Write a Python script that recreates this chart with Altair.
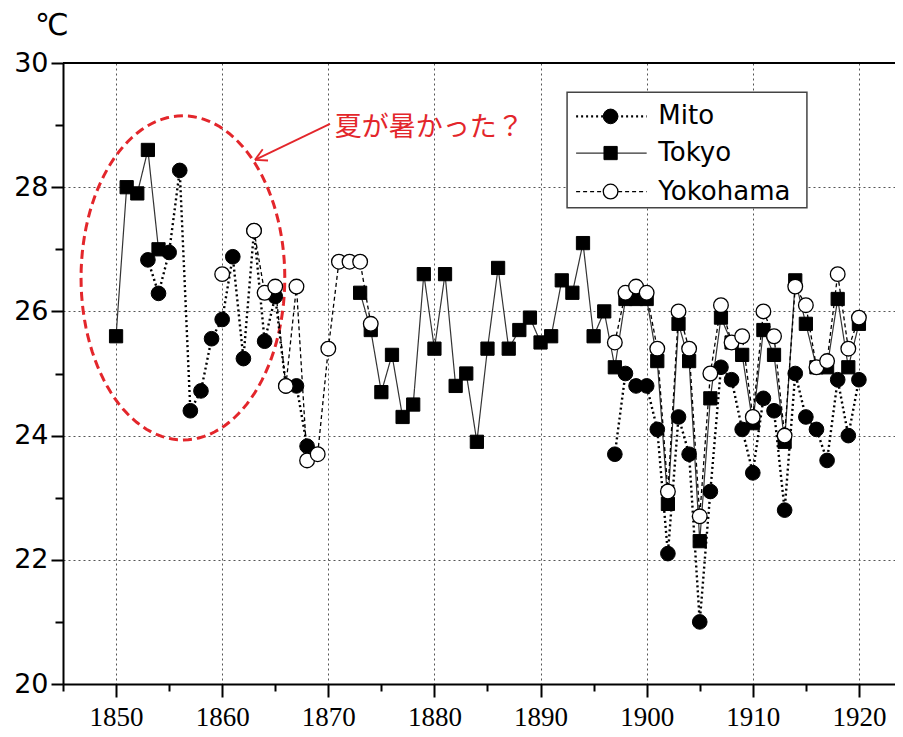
import numpy as np
import pandas as pd
import altair as alt

# ---------------- data ----------------
series_names = ["Mito", "Tokyo", "Yokohama"]

mito_years = list(range(1853, 1869)) + list(range(1897, 1921))
mito_vals = [26.83, 26.29, 26.95, 28.27, 24.40, 24.72, 25.56, 25.87, 26.88, 25.24,
             27.30, 25.52, 26.24, 24.80, 24.80, 23.83,
             23.7, 25.0, 24.8, 24.8, 24.1, 22.1, 24.3, 23.7, 21.0, 23.1,
             25.1, 24.9, 24.1, 23.4, 24.6, 24.4, 22.8, 25.0, 24.3, 24.1,
             23.6, 24.9, 24.0, 24.9]

tokyo_years = list(range(1850, 1855)) + list(range(1873, 1921))
tokyo_vals = [25.6, 28.0, 27.9, 28.6, 27.0,
              26.3, 25.7, 24.7, 25.3, 24.3, 24.5, 26.6, 25.4, 26.6, 24.8,
              25.0, 23.9, 25.4, 26.7, 25.4, 25.7, 25.9, 25.5, 25.6, 26.5,
              26.3, 27.1, 25.6, 26.0, 25.1, 26.2, 26.2, 26.2, 25.2, 22.9,
              25.8, 25.2, 22.3, 24.6, 25.9, 25.5, 25.3, 24.2, 25.7, 25.3,
              23.9, 26.5, 25.8, 25.1, 25.1, 26.2, 25.1, 25.8]

yoko_years = [1860] + list(range(1863, 1875)) + list(range(1897, 1921))
yoko_vals = [26.6,
             27.3, 26.3, 26.4, 24.8, 26.4, 23.6, 23.7, 25.4, 26.8, 26.8, 26.8, 25.8,
             25.5, 26.3, 26.4, 26.3, 25.4, 23.1, 26.0, 25.4, 22.7, 25.0,
             26.1, 25.5, 25.6, 24.3, 26.0, 25.6, 24.0, 26.4, 26.1, 25.1,
             25.2, 26.6, 25.4, 25.9]

x_major = [1850, 1860, 1870, 1880, 1890, 1900, 1910, 1920]
x_minor = [1845, 1855, 1865, 1875, 1885, 1895, 1905, 1915]
y_major = [20, 22, 24, 26, 28, 30]
y_minor = [21, 23, 25, 27, 29]

annotation_text = "夏が暑かった？"
y_unit = "℃"

# ---------------- styles / annotation geometry (data coordinates) ----------------
RED = "#e3262b"
ellipse_center = (1856.3, 26.54)
ellipse_radii = (9.6, 2.61)
arrow_tail = (1870.16, 29.02)
arrow_head = (1863.09, 28.44)
arrow_wings = [(1864.32, 28.43), (1863.82, 28.61)]
text_pos = (1870.6, 28.95)
unit_pos = (1843.95, 30.6)

legend_box = (1892.5, 1915.1, 29.53, 27.67)
legend_rows_y = [29.14, 28.55, 27.93]
legend_line_x = (1893.35, 1900.0)
legend_marker_x = 1896.6
legend_text_x = 1901.1

styles = {
    "Mito": dict(dash=[2, 3], width=2.4, color="black", shape="circle", fill="black", size=215, stroke_w=1),
    "Tokyo": dict(dash=[1, 0], width=1.2, color="#333333", shape="square", fill="black", size=175, stroke_w=1),
    "Yokohama": dict(dash=[4, 3], width=1.3, color="black", shape="circle", fill="white", size=215, stroke_w=1.3),
}

X = alt.Scale(domain=[1845, 1923.4], nice=False, zero=False)
Y = alt.Scale(domain=[20, 30], nice=False, zero=False)


def frame(name, years, vals):
    df = pd.DataFrame({"year": years, "temp": vals})
    df["seg"] = (df["year"].diff() != 1).cumsum()
    df["series"] = name
    return df


frames = {
    "Mito": frame("Mito", mito_years, mito_vals),
    "Tokyo": frame("Tokyo", tokyo_years, tokyo_vals),
    "Yokohama": frame("Yokohama", yoko_years, yoko_vals),
}

# ---------------- axes ----------------
x_axis_major = alt.Axis(values=x_major, format="d", orient="bottom", title="",
                        tickSize=13, tickWidth=2, tickColor="black",
                        domainColor="black", domainWidth=2,
                        labelFont="Liberation Sans Narrow", labelFontSize=27,
                        labelColor="black", labelPadding=7, labelFlush=False,
                        labelOverlap=False,
                        grid=True, gridColor="#555555", gridDash=[2, 3], gridWidth=1)
y_axis_major = alt.Axis(values=y_major, orient="left", title="",
                        tickSize=12, tickWidth=2, tickColor="black",
                        domainColor="black", domainWidth=2,
                        labelFont="DejaVu Sans", labelFontSize=27, labelColor="black",
                        labelPadding=3, labelFlush=False, labelOverlap=False,
                        grid=True, gridColor="#555555", gridDash=[2, 3], gridWidth=1)
x_axis_minor = alt.Axis(values=x_minor, orient="bottom", title="", labels=False,
                        domain=False, grid=False, tickSize=7, tickWidth=2,
                        tickColor="black")
y_axis_minor = alt.Axis(values=y_minor, orient="left", title="", labels=False,
                        domain=False, grid=False, tickSize=8, tickWidth=2,
                        tickColor="black")

layers = []

# axis carriers (invisible)
layers.append(
    alt.Chart(frames["Tokyo"]).mark_point(opacity=0).encode(
        x=alt.X("year:Q", scale=X, axis=x_axis_major),
        y=alt.Y("temp:Q", scale=Y, axis=y_axis_major),
    )
)
layers.append(
    alt.Chart(frames["Tokyo"]).mark_point(opacity=0).encode(
        x=alt.X("year:Q", scale=X, axis=x_axis_minor),
        y=alt.Y("temp:Q", scale=Y, axis=y_axis_minor),
    )
)


def xe(field="year:Q"):
    return alt.X(field, scale=X, axis=None)


def ye(field="temp:Q"):
    return alt.Y(field, scale=Y, axis=None)


# ellipse annotation
t = np.linspace(0, 2 * np.pi, 121)
ell = pd.DataFrame({
    "i": np.arange(len(t)),
    "year": ellipse_center[0] + ellipse_radii[0] * np.cos(t),
    "temp": ellipse_center[1] + ellipse_radii[1] * np.sin(t),
})
layers.append(
    alt.Chart(ell).mark_line(color=RED, strokeDash=[9, 5], strokeWidth=3).encode(
        x=xe(), y=ye(), order="i:Q"
    )
)

# series lines and points
for name in series_names:
    st = styles[name]
    df = frames[name]
    layers.append(
        alt.Chart(df).mark_line(color=st["color"], strokeWidth=st["width"],
                                strokeDash=st["dash"]).encode(
            x=xe(), y=ye(), detail="seg:N", order="year:Q"
        )
    )
for name in series_names:
    st = styles[name]
    df = frames[name]
    layers.append(
        alt.Chart(df).mark_point(shape=st["shape"], filled=True, fill=st["fill"],
                                 stroke="black", strokeWidth=st["stroke_w"],
                                 size=st["size"], opacity=1).encode(
            x=xe(), y=ye()
        )
    )

# legend (drawn in data space)
box = pd.DataFrame({"x": [legend_box[0]], "x2": [legend_box[1]],
                    "y": [legend_box[2]], "y2": [legend_box[3]]})
layers.append(
    alt.Chart(box).mark_rect(fill="white", stroke="#444444", strokeWidth=1.5).encode(
        x=xe("x:Q"), x2="x2:Q", y=ye("y:Q"), y2="y2:Q"
    )
)
for name, ly in zip(series_names, legend_rows_y):
    st = styles[name]
    seg = pd.DataFrame({"x": [legend_line_x[0]], "x2": [legend_line_x[1]], "y": [ly],
                        "label": [name], "mx": [legend_marker_x], "tx": [legend_text_x]})
    layers.append(
        alt.Chart(seg).mark_rule(color=st["color"], strokeWidth=st["width"],
                                 strokeDash=st["dash"]).encode(
            x=xe("x:Q"), x2="x2:Q", y=ye("y:Q")
        )
    )
    layers.append(
        alt.Chart(seg).mark_point(shape=st["shape"], filled=True, fill=st["fill"],
                                  stroke="black", strokeWidth=st["stroke_w"],
                                  size=st["size"], opacity=1).encode(
            x=xe("mx:Q"), y=ye("y:Q")
        )
    )
    layers.append(
        alt.Chart(seg).mark_text(align="left", baseline="middle", font="DejaVu Sans",
                                 fontSize=26, color="black").encode(
            x=xe("tx:Q"), y=ye("y:Q"), text="label:N"
        )
    )

# arrow
arrow = pd.DataFrame({
    "x": [arrow_tail[0], arrow_head[0], arrow_head[0]],
    "y": [arrow_tail[1], arrow_head[1], arrow_head[1]],
    "x2": [arrow_head[0], arrow_wings[0][0], arrow_wings[1][0]],
    "y2": [arrow_head[1], arrow_wings[0][1], arrow_wings[1][1]],
})
layers.append(
    alt.Chart(arrow).mark_rule(color=RED, strokeWidth=1.8).encode(
        x=xe("x:Q"), y=ye("y:Q"), x2="x2:Q", y2="y2:Q"
    )
)
txt = pd.DataFrame({"x": [text_pos[0]], "y": [text_pos[1]], "t": [annotation_text]})
layers.append(
    alt.Chart(txt).mark_text(align="left", baseline="middle", font="Noto Sans CJK JP",
                             fontSize=27, color=RED).encode(
        x=xe("x:Q"), y=ye("y:Q"), text="t:N"
    )
)

# unit label (y-axis title) above the axis
unit = pd.DataFrame({"x": [unit_pos[0]], "y": [unit_pos[1]], "t": [y_unit]})
layers.append(
    alt.Chart(unit).mark_text(align="center", baseline="middle", font="DejaVu Sans",
                              fontSize=30, color="black").encode(
        x=xe("x:Q"), y=ye("y:Q"), text="t:N"
    )
)

# top frame line
top = pd.DataFrame({"y": [30]})
layers.append(
    alt.Chart(top).mark_rule(color="black", strokeWidth=2).encode(y=ye("y:Q"))
)

chart = (
    alt.layer(*layers)
    .resolve_axis(x="independent", y="independent")
    .properties(width=832, height=621,
                autosize=alt.AutoSizeParams(type="none"),
                padding={"left": 55, "top": 55, "right": 0, "bottom": 50},
                background="white")
    .configure_view(stroke=None)
)

chart.save("out.html", embed_options={"renderer": "svg", "actions": False})
